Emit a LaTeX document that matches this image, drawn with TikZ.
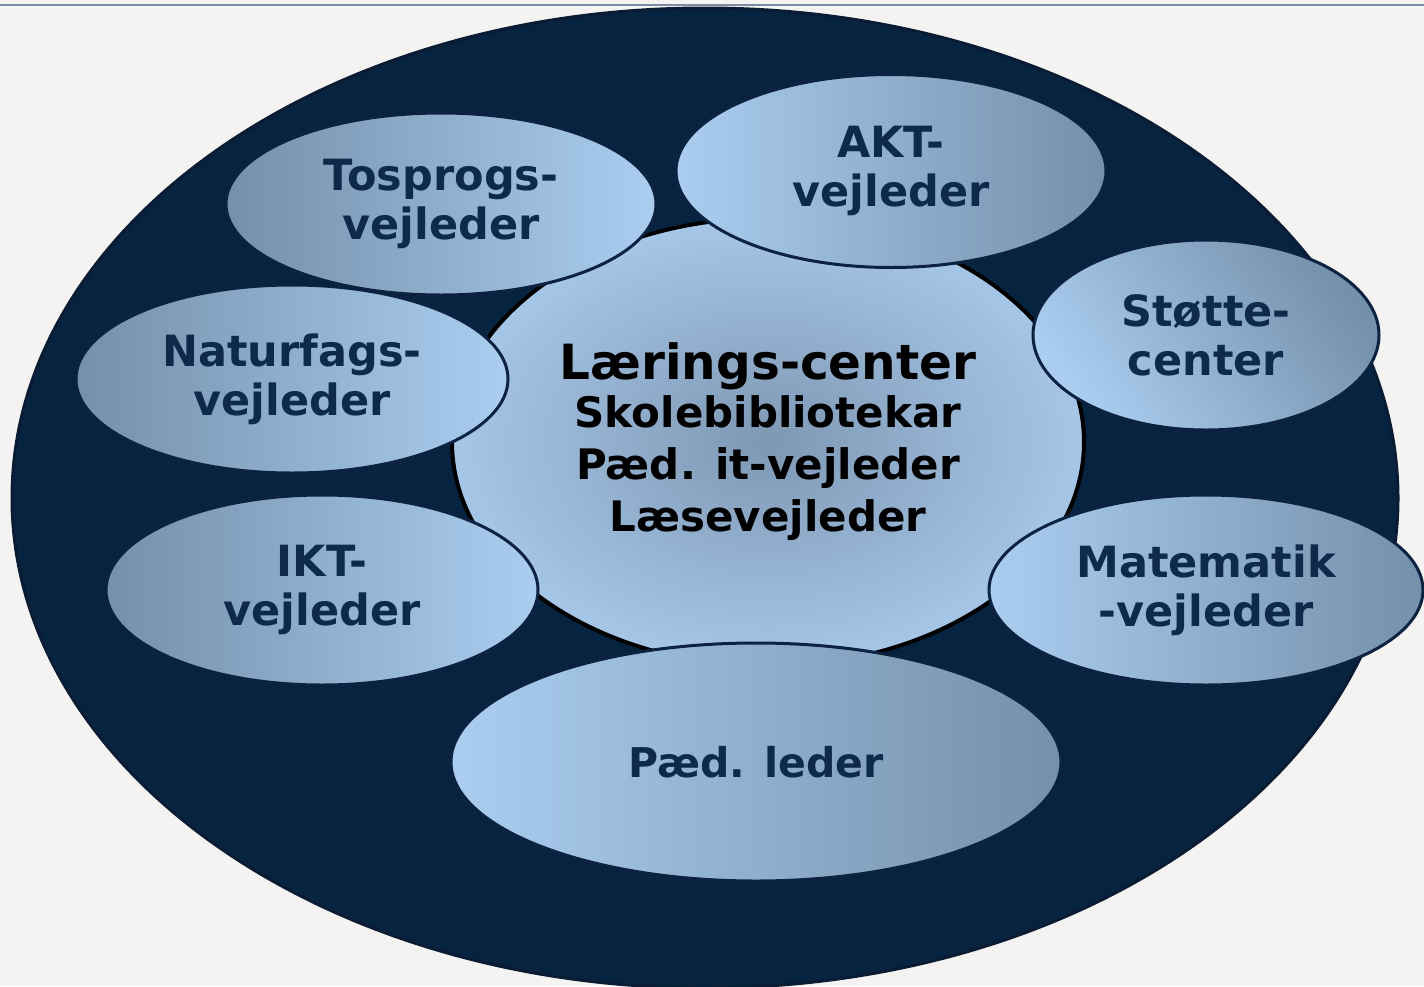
\documentclass[tikz,border=0pt]{standalone}
\usepackage{fontspec}
\setmainfont{DejaVu Sans}
\usetikzlibrary{shapes.geometric}
\definecolor{bg}{HTML}{F4F3F1}
\definecolor{navy}{HTML}{062440}
\definecolor{navyedge}{HTML}{0A1C33}
\definecolor{rim}{HTML}{0B2240}
\definecolor{txt}{HTML}{0E2A4A}
\definecolor{dk}{HTML}{7490AA}
\definecolor{lt}{HTML}{AACDF0}
\definecolor{cin}{HTML}{7E98B3}
\definecolor{cout}{HTML}{A6C6E8}
\definecolor{topline}{HTML}{7C8CA6}
\tikzset{
  bub/.style={ellipse, draw=rim, line width=3pt, inner sep=0pt, align=center,
    text=txt, font=\bfseries\fontsize{43}{49}\selectfont},
  dl/.style={left color=dk, right color=lt},
  ld/.style={left color=lt, right color=dk},
}
\begin{document}
\begin{tikzpicture}[x=1pt,y=-1pt]
\fill[bg] (0,0) rectangle (1424,986);
\useasboundingbox (0,0) rectangle (1424,986);
\draw[topline, line width=2.5pt] (0,5) -- (1424,5);
\node[ellipse, fill=navy, draw=navyedge, line width=3pt, minimum width=1386pt, minimum height=980pt, inner sep=0pt] (outer) at (705,498) {};
\node[ellipse, inner color=cin, outer color=cout, draw=black, line width=4pt, minimum width=632pt, minimum height=448pt, inner sep=0pt, align=center, font=\bfseries\fontsize{42}{52}\selectfont] (center) at (768,442)
  {{\fontsize{48.5}{52}\selectfont Lærings-center}\\[-4pt]
   Skolebibliotekar\\
   Pæd. it-vejleder\\
   Læsevejleder};
\node[bub, ld, minimum width=610pt, minimum height=238pt, font=\bfseries\fontsize{41}{49}\selectfont] (paed) at (756,762) {Pæd. leder};
\node[bub, dl, minimum width=430pt, minimum height=182pt] (tos) at (441,204) {Tosprogs-\\vejleder};
\node[bub, ld, minimum width=430pt, minimum height=193pt] (akt) at (891,171) {AKT-\\vejleder};
\node[bub, dl, minimum width=432pt, minimum height=188pt] (natur) at (292,379) {Naturfags-\\vejleder};
\node[bub, dl, minimum width=432pt, minimum height=190pt] (ikt) at (322,590) {IKT-\\vejleder};
\node[bub, ld, shading angle=125, minimum width=346pt, minimum height=190pt] (stotte) at (1206,335) {Støtte-\\center};
\node[bub, ld, minimum width=434pt, minimum height=190pt] (mat) at (1206,590) {Matematik\\-vejleder};
\end{tikzpicture}
\end{document}
